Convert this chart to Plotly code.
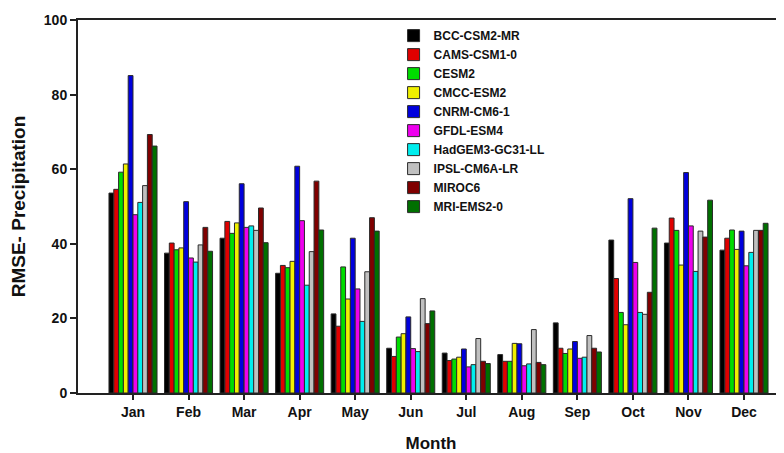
import plotly.graph_objects as go

months = ["Jan", "Feb", "Mar", "Apr", "May", "Jun", "Jul", "Aug", "Sep", "Oct", "Nov", "Dec"]

models = ["BCC-CSM2-MR", "CAMS-CSM1-0", "CESM2", "CMCC-ESM2", "CNRM-CM6-1",
          "GFDL-ESM4", "HadGEM3-GC31-LL", "IPSL-CM6A-LR", "MIROC6", "MRI-EMS2-0"]

colors = ["#000000", "#e00000", "#00dd00", "#f0f000", "#0000dd",
          "#ee00ee", "#00eeee", "#c0c0c0", "#800000", "#007000"]

bcc_csm2_mr     = [53.6, 37.5, 41.5, 32.1, 21.2, 12.0, 10.7, 10.3, 18.8, 41.0, 40.2, 38.3]
cams_csm1_0     = [54.6, 40.2, 46.0, 34.2, 17.9, 9.8, 8.7, 8.5, 12.0, 30.7, 46.9, 41.5]
cesm2           = [59.2, 38.4, 42.8, 33.6, 33.8, 15.0, 9.1, 8.5, 10.6, 21.6, 43.6, 43.7]
cmcc_esm2       = [61.4, 38.9, 45.6, 35.3, 25.2, 15.9, 9.6, 13.3, 11.8, 18.3, 34.3, 38.5]
cnrm_cm6_1      = [85.1, 51.3, 56.1, 60.8, 41.5, 20.4, 11.8, 13.2, 13.8, 52.1, 59.1, 43.4]
gfdl_esm4       = [47.8, 36.2, 44.4, 46.2, 27.9, 11.9, 7.0, 7.3, 9.3, 35.0, 44.8, 34.1]
hadgem3_gc31_ll = [51.1, 35.1, 44.8, 28.9, 19.2, 11.1, 7.6, 7.8, 9.6, 21.6, 32.6, 37.7]
ipsl_cm6a_lr    = [55.6, 39.7, 43.6, 37.9, 32.5, 25.3, 14.6, 17.0, 15.4, 21.1, 43.4, 43.6]
miroc6          = [69.3, 44.4, 49.6, 56.8, 47.0, 18.6, 8.5, 8.2, 12.0, 27.0, 41.8, 43.6]
mri_ems2_0      = [66.2, 38.0, 40.3, 43.7, 43.4, 22.0, 7.9, 7.6, 11.0, 44.2, 51.7, 45.5]

series = [bcc_csm2_mr, cams_csm1_0, cesm2, cmcc_esm2, cnrm_cm6_1,
          gfdl_esm4, hadgem3_gc31_ll, ipsl_cm6a_lr, miroc6, mri_ems2_0]

y_ticks = [0, 20, 40, 60, 80, 100]

FONT = "Liberation Sans, Arial, sans-serif"

fig = go.Figure()
for name, vals, col in zip(models, series, colors):
    fig.add_trace(go.Bar(
        x=months, y=vals, name=name,
        marker=dict(color=col, line=dict(color="#2a2a2a", width=1)),
    ))

fig.update_layout(
    width=776, height=445,
    margin=dict(l=70, r=0, t=12, b=60),
    paper_bgcolor="white", plot_bgcolor="white",
    barmode="group", bargap=0.135, bargroupgap=0,
    font=dict(family=FONT, color="#111111"),
    showlegend=True,
    legend=dict(
        x=0.447, y=0.997, xanchor="left", yanchor="top",
        bgcolor="rgba(0,0,0,0)", tracegroupgap=0,
        font=dict(family=FONT, size=12, color="#111111", weight="bold"),
        itemwidth=30,
    ),
    xaxis=dict(
        type="category", range=[-0.99, 11.72],
        showline=True, linecolor="#222222", linewidth=2, mirror=True,
        ticks="outside", ticklen=5, tickwidth=1.5, tickcolor="#222222",
        tickfont=dict(family=FONT, size=14, weight="bold"),
        showgrid=False, zeroline=False,
        title=dict(text="<b>Month</b>", font=dict(family=FONT, size=17), standoff=20),
    ),
    yaxis=dict(
        range=[0, 100], tickvals=y_ticks,
        showline=True, linecolor="#222222", linewidth=2,
        ticks="outside", ticklen=6, tickwidth=1.5, tickcolor="#222222",
        tickfont=dict(family=FONT, size=14, weight="bold"),
        showgrid=False, zeroline=False,
        title=dict(text="<b>RMSE- Precipitation</b>", font=dict(family=FONT, size=19), standoff=13),
    ),
)

fig.write_html("out.html")
